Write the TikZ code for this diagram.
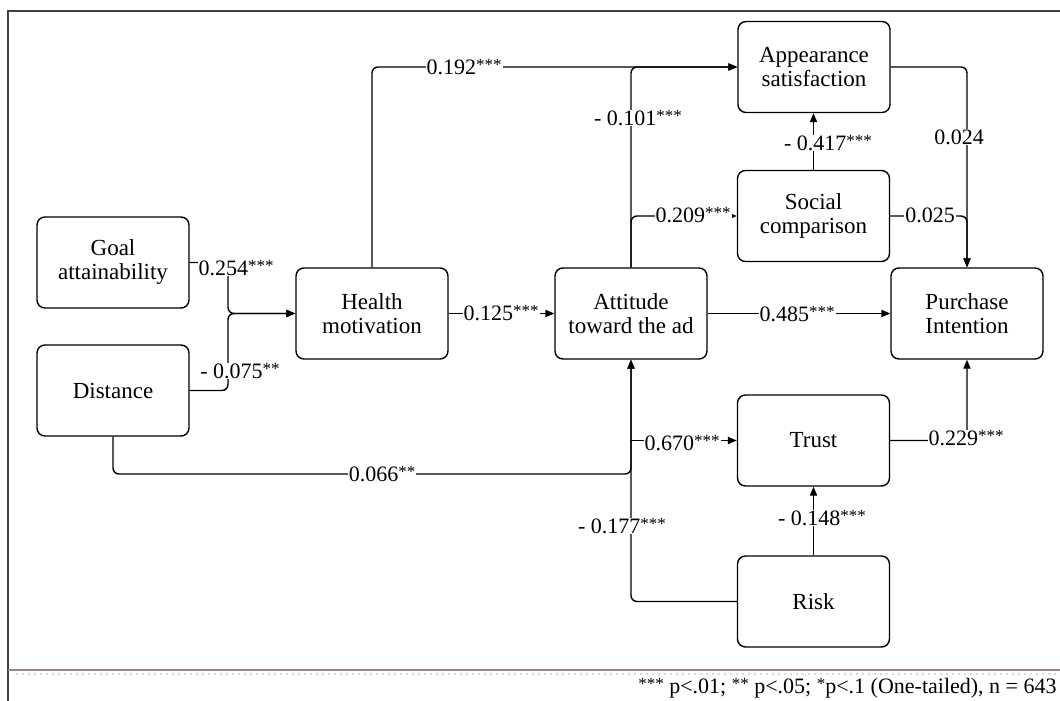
\documentclass[tikz,border=0pt]{standalone}
\usepackage{fontspec}
\setmainfont{Liberation Serif}
\usetikzlibrary{arrows.meta}
% small raised significance stars
\newcommand\sig[1]{\raisebox{0.35ex}{\fontsize{8.5}{8}\selectfont #1}}

\begin{document}
\begin{tikzpicture}[x=0.5pt,y=-0.5pt,
  box/.style={draw, line width=0.7pt, rounded corners=4pt, minimum width=76pt,
    minimum height=45.5pt, align=center, inner sep=0pt,
    font=\fontsize{11.5}{12}\selectfont},
  link/.style={line width=0.7pt, rounded corners=3pt,
    -{Triangle[length=4.5pt,width=3.6pt]}},
  coef/.style={fill=white, inner sep=0.5pt, font=\fontsize{11}{12}\selectfont},
]
\useasboundingbox (0,0) rectangle (1060,701);

% outer frame and footnote rule
\draw[line width=1pt, black!75] (8,701) -- (8,11) -- (1060,11);
\draw[line width=1pt, color={rgb,255:red,150;green,135;blue,128}] (8,670) -- (1060,670);
\draw[line width=1pt, black!15, dotted] (16,674) -- (1060,674);

% constructs
\node[box] (goal)   at (113,262.5)   {Goal\\attainability};
\node[box] (dist)   at (113,390.5)   {Distance};
\node[box] (health) at (372,313.5)   {Health\\motivation};
\node[box] (att)    at (631,313.5)   {Attitude\\toward the ad};
\node[box] (app)    at (814,67)      {Appearance\\satisfaction};
\node[box] (soc)    at (813.5,216)   {Social\\comparison};
\node[box] (pi)     at (967,313.5)   {Purchase\\Intention};
\node[box] (trust)  at (813.5,440.5) {Trust};
\node[box] (risk)   at (813.5,601.5) {Risk};

% routing points
\coordinate (merge) at (228,313.5);
\coordinate (low)   at (380,474);

% paths
\draw[link] (goal.east) -| (merge) -- (health.west);
\draw[link] (dist.east) -| (merge) -- (health.west);
\draw[link] (health) -- (att);
\draw[link] (health.north) |- (app.west);
\draw[link] (att.north) |- (app.west);
\draw[link] (att.north) |- (soc.west);
\draw[link] (soc.north) -- (soc.north |- app.south);
\draw[link] (app.east) -| (pi.north);
\draw[link] (soc.east) -| (pi.north);
\draw[link] (att) -- (pi);
\draw[link] (dist.south) |- (low) -| (att.south);
\draw[link, sharp corners] (att.south |- trust.west) -- (trust.west);
\draw[link] (risk.west) -| (att.south);
\draw[link] (risk.north) -- (trust.south);
\draw[link] (trust.east) -| (pi.south);

% path coefficients
\node[coef] (c1)  at (236,268)   {0.254\sig{***}};
\node[coef] (c2)  at (240,371)   {- 0.075\sig{**}};
\node[coef] (c3)  at (501,313)   {0.125\sig{***}};
\node[coef] (c4)  at (464,67)    {0.192\sig{***}};
\node[coef] (c5)  at (638,118)   {- 0.101\sig{***}};
\node[coef] (c6)  at (693,215)   {0.209\sig{***}};
\node[coef] (c7)  at (828,143)   {- 0.417\sig{***}};
\node[coef] (c8)  at (959,137)   {0.024};
\node[coef] (c9)  at (930,215)   {0.025};
\node[coef] (c10) at (797,314)   {0.485\sig{***}};
\node[coef] (c11) at (382,474)   {0.066\sig{**}};
\node[coef] (c12) at (682,443)   {0.670\sig{***}};
\node[coef] (c13) at (622,526)   {- 0.177\sig{***}};
\node[coef] (c14) at (822,518)   {- 0.148\sig{***}};
\node[coef] (c15) at (966,438)   {0.229\sig{***}};

% footnote
\node[anchor=east, inner sep=0pt, font=\fontsize{11}{12}\selectfont] (note) at (1057,688)
  {\sig{***} p<.01; \sig{**} p<.05; \sig{*}p<.1 (One-tailed), n = 643};
\end{tikzpicture}
\end{document}
